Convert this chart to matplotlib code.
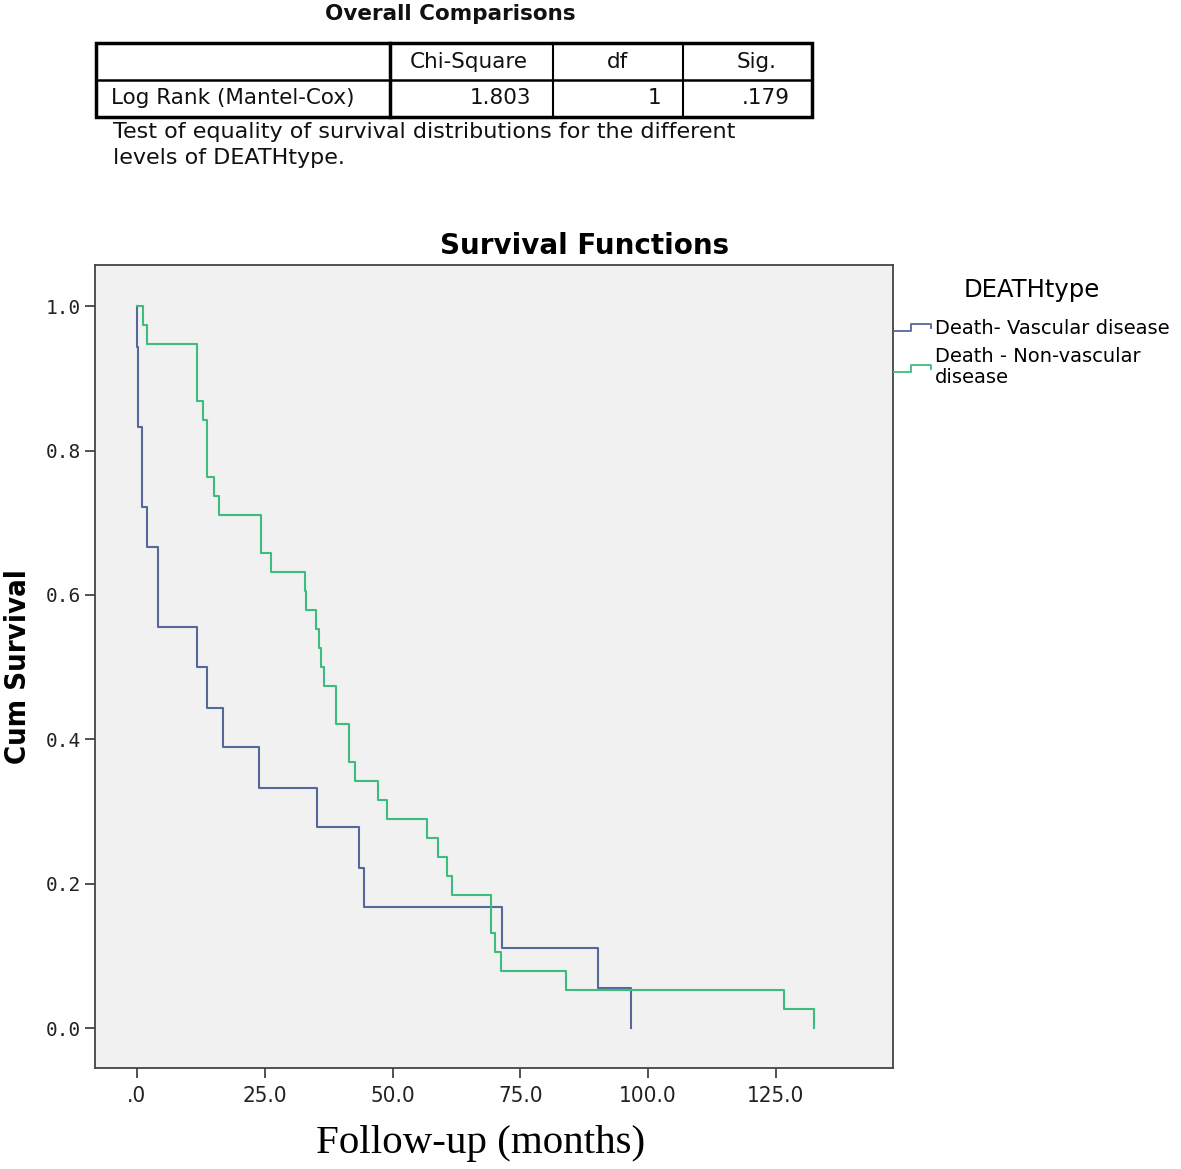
import numpy as np
import matplotlib
matplotlib.use('Agg')
import matplotlib.pyplot as plt
from matplotlib.legend_handler import HandlerBase
from matplotlib.lines import Line2D
from matplotlib.patches import Rectangle

# Kaplan-Meier step values
vasc_t = [0, 0.1, 0.2, 0.3, 0.9, 2.0, 4.2, 11.7, 13.7, 16.9, 23.9, 35.2,
          43.5, 44.5, 71.4, 90.1, 96.7]
vasc_s = [1.0, .944, .889, .833, .722, .667, .556, .500, .444, .389, .333,
          .278, .222, .167, .111, .056, .000]

nonvasc_t = [0, 1.2, 1.9, 11.8, 13.0, 13.8, 15.1, 16.0, 24.3, 26.3, 32.8,
             33.1, 35.0, 35.7, 36.1, 36.6, 39.0, 41.5, 42.7, 47.2, 49.0,
             56.7, 58.8, 60.6, 61.6, 69.3, 70.0, 71.2, 84.0, 126.6, 132.4]
nonvasc_s = [1.0, .974, .947, .868, .842, .763, .737, .711, .658, .632, .605,
             .579, .553, .526, .500, .474, .421, .368, .342, .316, .289,
             .263, .237, .211, .184, .132, .105, .079, .053, .026, .000]

series_labels = ['Death- Vascular disease', 'Death - Non-vascular\ndisease']
series_colors = ['#56679a', '#3dbd7d']

# log rank table
table_header = ['', 'Chi-Square', 'df', 'Sig.']
table_row = ['Log Rank (Mantel-Cox)', '1.803', '1', '.179']

xticks = [0, 25, 50, 75, 100, 125]
xtick_labels = ['.0', '25.0', '50.0', '75.0', '100.0', '125.0']
yticks = [0.0, 0.2, 0.4, 0.6, 0.8, 1.0]


class StepHandler(HandlerBase):
    """Little step glyph like the SPSS legend."""

    def create_artists(self, legend, orig_handle, xdescent, ydescent,
                       width, height, fontsize, trans):
        xs = np.array([0, 0.45, 0.45, 1.0, 1.0]) * width - xdescent
        ys = np.array([0.2, 0.2, 0.7, 0.7, 0.45]) * height - ydescent
        line = Line2D(xs, ys, color=orig_handle.get_color(), lw=1.3,
                      transform=trans)
        return [line]


W, H = 1181, 1169
fig = plt.figure(figsize=(W / 100, H / 100), dpi=100)

# overlay in pixel coordinates for the table part
ov = fig.add_axes([0, 0, 1, 1])
ov.set_xlim(0, W)
ov.set_ylim(H, 0)
ov.axis('off')

txt = '#111111'
fs_tab = 15.5
ov.text(450, 14, 'Overall Comparisons', ha='center', va='center',
        fontsize=15.5, fontweight='bold', color=txt)
ov.add_patch(Rectangle((96, 43), 716, 74, fill=False, lw=2.5, ec='black'))
ov.plot([96, 812], [80, 80], color='black', lw=1.8)
ov.plot([390, 390], [43, 117], color='black', lw=2.5)
ov.plot([553, 553], [43, 117], color='black', lw=1.5)
ov.plot([683, 683], [43, 117], color='black', lw=1.5)
hdr_x = [243, 469, 617, 757]
for x, s in zip(hdr_x, table_header):
    ov.text(x, 62, s, ha='center', va='center', fontsize=fs_tab, color=txt)
ov.text(111, 98, table_row[0], ha='left', va='center', fontsize=fs_tab,
        color=txt)
for x, s in zip([531, 661, 790], table_row[1:]):
    ov.text(x, 98, s, ha='right', va='center', fontsize=fs_tab, color=txt)
ov.text(113, 132, 'Test of equality of survival distributions for the different',
        ha='left', va='center', fontsize=16, color=txt)
ov.text(113, 158, 'levels of DEATHtype.', ha='left', va='center',
        fontsize=16, color=txt)

# survival plot
ax = fig.add_axes([95 / W, 1 - 1068 / H, (893 - 95) / W, (1068 - 265) / H])
ax.set_facecolor('#f1f1f1')
h1, = ax.step(vasc_t, vasc_s, where='post', color=series_colors[0], lw=1.5,
              label=series_labels[0])
h2, = ax.step(nonvasc_t, nonvasc_s, where='post', color=series_colors[1],
              lw=1.5, label=series_labels[1])

ax.set_xlim(-8.2, 147.9)
ax.set_ylim(-0.0554, 1.057)
ax.set_xticks(xticks)
ax.set_xticklabels(xtick_labels, fontsize=16, fontstretch='condensed',
                   color='#222222')
ax.set_yticks(yticks)
ax.set_yticklabels([f'{v:.1f}' for v in yticks], fontsize=14,
                   family='DejaVu Sans Mono', color='#222222')
ax.tick_params(axis='both', length=7, width=1.2, color='#333333')
ax.tick_params(axis='x', pad=6)
ax.tick_params(axis='y', pad=3)
for sp in ax.spines.values():
    sp.set_color('#444444')
    sp.set_linewidth(1.3)

ax.set_title('Survival Functions', fontsize=20, fontweight='bold',
             x=(585 - 95) / 798, pad=8)
ax.set_xlabel('Follow-up (months)', family='Liberation Serif', fontsize=29.5)
ax.xaxis.set_label_coords((481 - 95) / 798, (1068 - 1143) / 803)
ax.xaxis.label.set_va('center')
ax.set_ylabel('Cum Survival', fontsize=21, fontweight='bold',
              fontstretch='condensed')
ax.yaxis.set_label_coords((18 - 95) / 798, (1068 - 667) / 803)
ax.yaxis.label.set_va('center')

leg = ax.legend(handles=[h1, h2], loc='upper left',
                bbox_to_anchor=(894 / W, 1 - 278 / H),
                bbox_transform=fig.transFigure, frameon=False,
                title='DEATHtype', title_fontsize=17.5, fontsize=14,
                handlelength=1.9, handletextpad=0.2, labelspacing=0.5,
                borderpad=0, borderaxespad=0,
                handler_map={Line2D: StepHandler()})
leg._legend_box.sep = 12
for t in leg.get_texts():
    t.set_linespacing(1.1)

fig.savefig('out.png', dpi=100)
